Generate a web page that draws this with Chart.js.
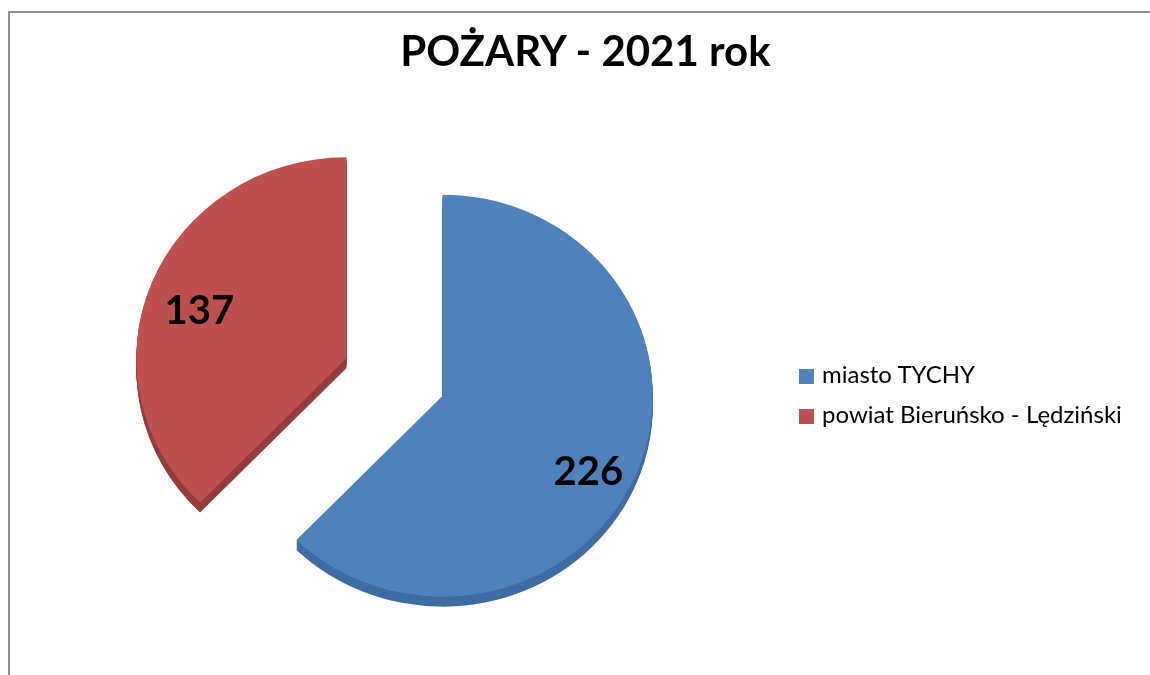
<!DOCTYPE html>
<html>
<head>
<meta charset="utf-8">
<script src="https://cdn.jsdelivr.net/npm/chart.js@4/dist/chart.umd.min.js"></script>
<style>
  html, body { margin: 0; padding: 0; background: #ffffff; }
  #wrap { position: relative; width: 1150px; height: 675px; overflow: hidden; }
  #frame { position: absolute; left: 8px; top: 11px; width: 1300px; height: 800px;
           border-left: 2px solid #8e8e8e; border-top: 2px solid #8e8e8e; }
  #chart { position: absolute; left: 0; top: 0; }
  #title { position: absolute; left: 0; width: 1171px; top: 29px; text-align: center;
           font: bold 42px Lato, sans-serif; line-height: 42px; color: #000; white-space: nowrap; }
  .leg { position: absolute; left: 799px; font: 24px Lato, sans-serif; line-height: 24px; color: #000; white-space: nowrap; }
  .sw { position: absolute; width: 15px; height: 15px; }
  .lt { position: absolute; left: 23px; }
</style>
</head>
<body>
<div id="wrap">
  <div id="frame"></div>
  <canvas id="chart" width="1150" height="675"></canvas>
  <div id="title"></div>
  <div id="legend"></div>
</div>
<script>
// ---- data ----
const chartTitle = 'POŻARY - 2021 rok';
const categories = ['miasto TYCHY', 'powiat Bieruńsko - Lędziński'];
const values = [226, 137];
const faceColors = ['#4F81BD', '#C0504D'];
const sideColors = ['#3F6CA3', '#943C3A'];

// ---- title & legend (text) ----
document.getElementById('title').textContent = chartTitle;
const legendTops = [362, 402];
const legend = document.getElementById('legend');
categories.forEach((c, i) => {
  const row = document.createElement('div');
  row.className = 'leg';
  row.style.top = legendTops[i] + 'px';
  const sw = document.createElement('span');
  sw.className = 'sw';
  sw.style.background = faceColors[i];
  sw.style.top = '7px';
  const t = document.createElement('span');
  t.className = 'lt';
  t.textContent = c;
  row.appendChild(sw);
  row.appendChild(t);
  legend.appendChild(row);
});

// ---- exploded pseudo-3D pie drawing ----
const explode3d = {
  id: 'explode3d',
  beforeDatasetDraw(chart, args, opts) {
    const ctx = chart.ctx;
    const arcs = args.meta.data;
    if (!arcs.length) return;
    const cx = arcs[0].x, cy = arcs[0].y;
    const drawArc = (arc, dy, color) => {
      const mid = (arc.startAngle + arc.endAngle) / 2;
      ctx.save();
      ctx.translate(cx, cy + dy);
      ctx.scale(1, opts.tilt);
      ctx.translate(-cx, -cy);
      ctx.translate(Math.cos(mid) * opts.explode, Math.sin(mid) * opts.explode);
      const orig = arc.options;
      arc.options = Object.assign({}, orig, { backgroundColor: color, borderWidth: 0 });
      arc.draw(ctx);
      arc.options = orig;
      ctx.restore();
    };
    arcs.forEach((arc, i) => {
      for (let d = opts.depth; d >= 1; d--) drawArc(arc, d, sideColors[i]);
    });
    arcs.forEach((arc, i) => drawArc(arc, 0, faceColors[i]));
    return false;
  },
  afterDatasetsDraw(chart, args, opts) {
    const ctx = chart.ctx;
    const meta = chart.getDatasetMeta(0);
    const arcs = meta.data;
    const cx = arcs[0].x, cy = arcs[0].y;
    ctx.save();
    ctx.font = opts.font;
    ctx.fillStyle = '#000';
    ctx.textAlign = 'center';
    ctx.textBaseline = 'middle';
    arcs.forEach((arc, i) => {
      const mid = (arc.startAngle + arc.endAngle) / 2;
      const r = arc.outerRadius * opts.labelPos[i] + opts.explode;
      const x = cx + Math.cos(mid) * r + opts.labelShift[i][0];
      const y = cy + Math.sin(mid) * r * opts.tilt + opts.labelShift[i][1];
      ctx.fillText(String(chart.data.datasets[0].data[i]), x, y);
    });
    ctx.restore();
  }
};

new Chart(document.getElementById('chart'), {
  type: 'pie',
  data: {
    labels: categories,
    datasets: [{
      data: values,
      backgroundColor: faceColors,
      borderWidth: 0,
      radius: 210
    }]
  },
  options: {
    responsive: false,
    animation: false,
    events: [],
    layout: { padding: { left: 0, right: 361, top: 89, bottom: 10 } },
    plugins: {
      legend: { display: false },
      title: { display: false },
      tooltip: { enabled: false },
      explode3d: {
        tilt: 0.957, explode: 52, depth: 10,
        labelPos: [0.80, 0.745],
        labelShift: [[-10, 16], [-2, 9]],
        font: 'bold 40px Lato, sans-serif'
      }
    }
  },
  plugins: [explode3d]
});
</script>
</body>
</html>
